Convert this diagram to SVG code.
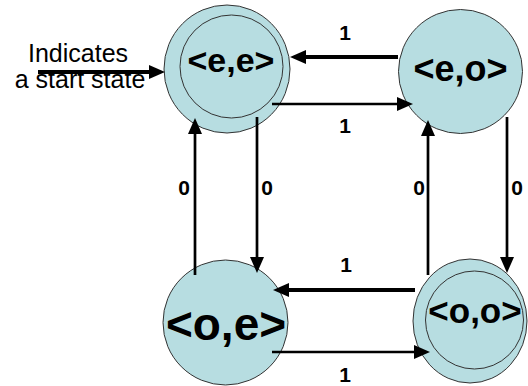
<svg xmlns="http://www.w3.org/2000/svg" width="528" height="386" viewBox="0 0 528 386">
  <style>
    .state { fill: #b7dde1; stroke: #333333; stroke-width: 1; }
    .ring { fill: none; stroke: #333333; stroke-width: 1; }
    .name { font-family: "Liberation Sans", Arial, sans-serif; font-weight: bold; fill: #000000; text-anchor: middle; }
    .lbl { font-family: "Liberation Sans", Arial, sans-serif; font-weight: bold; font-size: 21px; fill: #000000; text-anchor: middle; }
    .note { font-family: "Liberation Sans", Arial, sans-serif; font-size: 25px; fill: #000000; text-anchor: middle; }
    .edge { fill: none; stroke: #000000; stroke-width: 2.7; marker-end: url(#head); }
    .edge.heavy { stroke-width: 4; }
  </style>
  <defs>
    <marker id="head" markerUnits="userSpaceOnUse" markerWidth="16" markerHeight="14" viewBox="0 0 16 14" refX="0" refY="7" orient="auto">
      <path d="M0,0 L16,7 L0,14 z" fill="#000000"/>
    </marker>
  </defs>

  <!-- states -->
  <g id="state-ee">
    <ellipse class="state" cx="227" cy="69" rx="63" ry="64"/>
    <circle class="ring" cx="231.5" cy="66.5" r="51.5"/>
    <text class="name" x="231" y="72" font-size="34">&lt;e,e&gt;</text>
  </g>
  <g id="state-eo">
    <circle class="state" cx="460.5" cy="71.5" r="62"/>
    <text class="name" x="460.5" y="81" font-size="36">&lt;e,o&gt;</text>
  </g>
  <g id="state-oe">
    <circle class="state" cx="225.5" cy="322.5" r="62.5"/>
    <text class="name" x="226" y="340" font-size="46">&lt;o,e&gt;</text>
  </g>
  <g id="state-oo">
    <ellipse class="state" cx="470" cy="321" rx="57" ry="62"/>
    <circle class="ring" cx="474.5" cy="320" r="49"/>
    <text class="name" x="475" y="323" font-size="35">&lt;o,o&gt;</text>
  </g>

  <!-- start marker -->
  <g id="start">
    <text class="note" x="78" y="62">Indicates</text>
    <text class="note" x="80" y="88">a start state</text>
  </g>

  <!-- transitions -->
  <g id="connectors">
    <path class="edge heavy" d="M38,72 H149"/>
    <path class="edge heavy" d="M398,57 H306"/>
    <path class="edge" d="M272,104 H397"/>
    <path class="edge" d="M257,117 V257"/>
    <path class="edge" d="M195,275 V134"/>
    <path class="edge" d="M507,117 V257"/>
    <path class="edge" d="M428,275 V136"/>
    <path class="edge heavy" d="M415,290 H289"/>
    <path class="edge" d="M272,352 H414"/>
  </g>

  <!-- transition labels -->
  <g id="labels">
    <text class="lbl" x="345" y="40">1</text>
    <text class="lbl" x="345" y="133">1</text>
    <text class="lbl" x="184" y="195">0</text>
    <text class="lbl" x="267" y="195">0</text>
    <text class="lbl" x="419" y="195">0</text>
    <text class="lbl" x="517" y="195">0</text>
    <text class="lbl" x="346" y="272">1</text>
    <text class="lbl" x="345" y="382">1</text>
  </g>
</svg>
